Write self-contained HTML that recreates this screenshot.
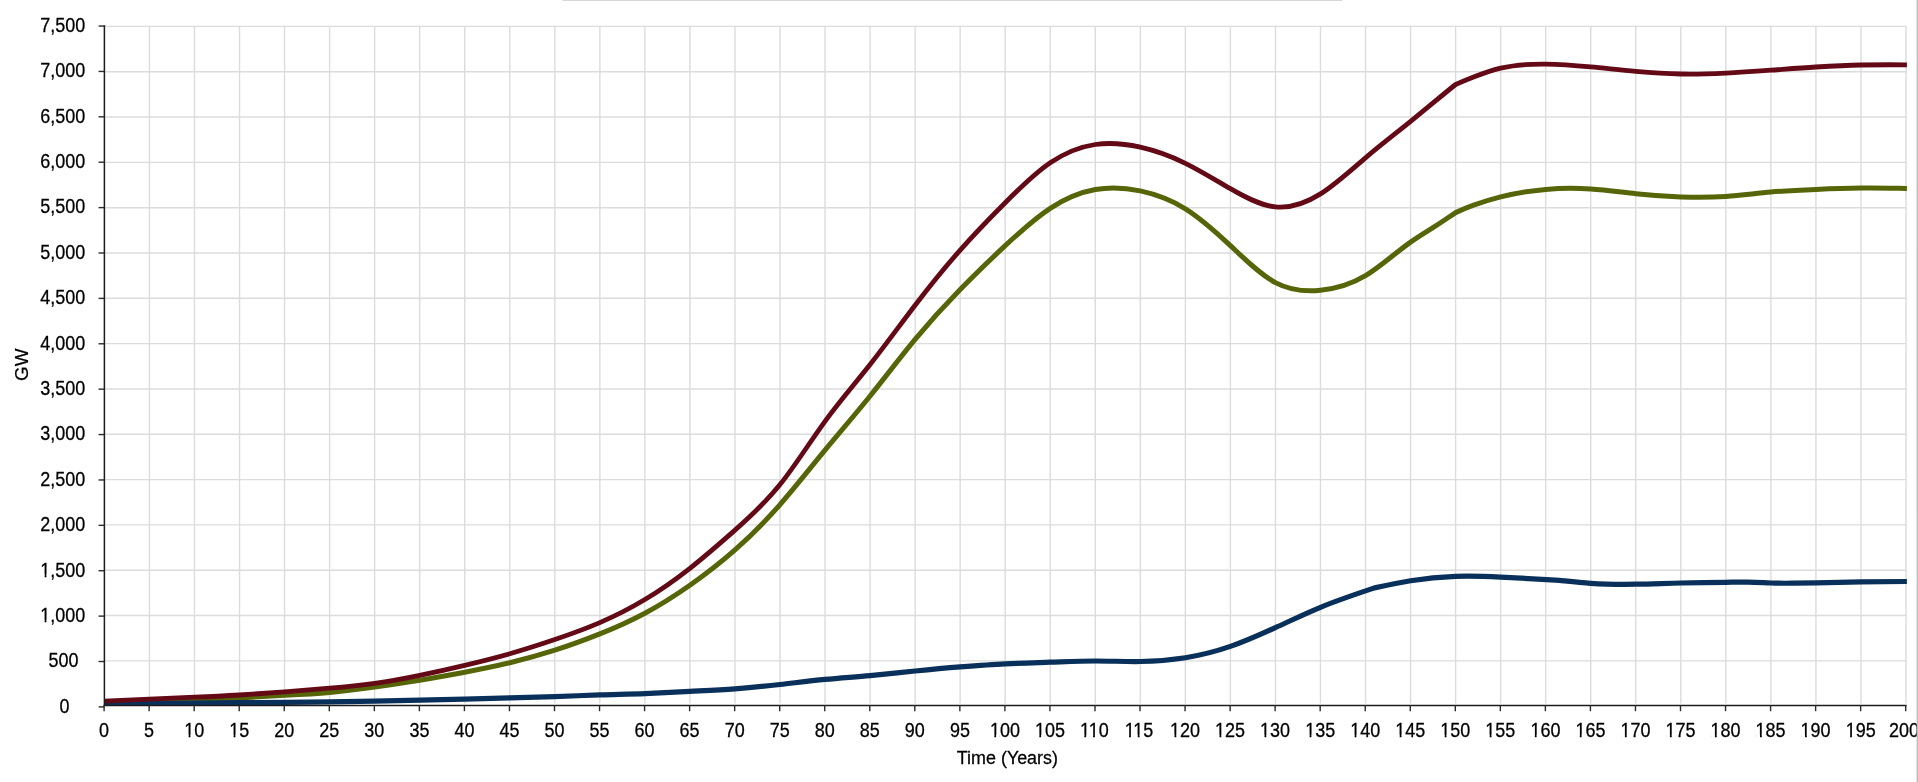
<!DOCTYPE html>
<html><head><meta charset="utf-8"><title>Chart</title>
<style>
html,body{margin:0;padding:0;background:#fff;overflow:hidden}
body{width:1918px;height:782px;position:relative;font-family:"Liberation Sans",sans-serif}
svg{position:absolute;left:0;top:0;display:block;will-change:transform}
text{font-family:"Liberation Sans",sans-serif;font-size:18px;fill:#000;stroke:#000;stroke-width:0.25px}
</style></head><body>
<svg width="1918" height="782" viewBox="0 0 1918 782">
<defs><clipPath id="pc"><rect x="104.4" y="20" width="1803" height="685.6"/></clipPath>
<linearGradient id="tg" x1="0" y1="0" x2="0" y2="1"><stop offset="0" stop-color="#c2c2c2"/><stop offset="1" stop-color="#c2c2c2" stop-opacity="0"/></linearGradient>
<linearGradient id="rg" x1="0" y1="0" x2="1" y2="0"><stop offset="0" stop-color="#bcbcbc" stop-opacity="0"/><stop offset="0.35" stop-color="#bcbcbc"/><stop offset="1" stop-color="#bebebe"/></linearGradient>
</defs>
<rect x="0" y="0" width="1918" height="782" fill="#fff"/>
<rect x="562.5" y="0" width="780" height="1.5" rx="0.5" fill="url(#tg)"/>
<g stroke="#dcdcdc" stroke-width="1.4" fill="none"><line x1="104.4" x2="1906.6" y1="660.88" y2="660.88"/><line x1="104.4" x2="1906.6" y1="615.56" y2="615.56"/><line x1="104.4" x2="1906.6" y1="570.24" y2="570.24"/><line x1="104.4" x2="1906.6" y1="524.92" y2="524.92"/><line x1="104.4" x2="1906.6" y1="479.60" y2="479.60"/><line x1="104.4" x2="1906.6" y1="434.28" y2="434.28"/><line x1="104.4" x2="1906.6" y1="388.96" y2="388.96"/><line x1="104.4" x2="1906.6" y1="343.64" y2="343.64"/><line x1="104.4" x2="1906.6" y1="298.32" y2="298.32"/><line x1="104.4" x2="1906.6" y1="253.00" y2="253.00"/><line x1="104.4" x2="1906.6" y1="207.68" y2="207.68"/><line x1="104.4" x2="1906.6" y1="162.36" y2="162.36"/><line x1="104.4" x2="1906.6" y1="117.04" y2="117.04"/><line x1="104.4" x2="1906.6" y1="71.72" y2="71.72"/><line x1="104.4" x2="1906.6" y1="26.40" y2="26.40"/><line x1="149.44" x2="149.44" y1="26" y2="703.5"/><line x1="194.48" x2="194.48" y1="26" y2="703.5"/><line x1="239.52" x2="239.52" y1="26" y2="703.5"/><line x1="284.56" x2="284.56" y1="26" y2="703.5"/><line x1="329.60" x2="329.60" y1="26" y2="703.5"/><line x1="374.64" x2="374.64" y1="26" y2="703.5"/><line x1="419.68" x2="419.68" y1="26" y2="703.5"/><line x1="464.72" x2="464.72" y1="26" y2="703.5"/><line x1="509.76" x2="509.76" y1="26" y2="703.5"/><line x1="554.80" x2="554.80" y1="26" y2="703.5"/><line x1="599.84" x2="599.84" y1="26" y2="703.5"/><line x1="644.88" x2="644.88" y1="26" y2="703.5"/><line x1="689.92" x2="689.92" y1="26" y2="703.5"/><line x1="734.96" x2="734.96" y1="26" y2="703.5"/><line x1="780.00" x2="780.00" y1="26" y2="703.5"/><line x1="825.04" x2="825.04" y1="26" y2="703.5"/><line x1="870.08" x2="870.08" y1="26" y2="703.5"/><line x1="915.12" x2="915.12" y1="26" y2="703.5"/><line x1="960.16" x2="960.16" y1="26" y2="703.5"/><line x1="1005.20" x2="1005.20" y1="26" y2="703.5"/><line x1="1050.24" x2="1050.24" y1="26" y2="703.5"/><line x1="1095.28" x2="1095.28" y1="26" y2="703.5"/><line x1="1140.32" x2="1140.32" y1="26" y2="703.5"/><line x1="1185.36" x2="1185.36" y1="26" y2="703.5"/><line x1="1230.40" x2="1230.40" y1="26" y2="703.5"/><line x1="1275.44" x2="1275.44" y1="26" y2="703.5"/><line x1="1320.48" x2="1320.48" y1="26" y2="703.5"/><line x1="1365.52" x2="1365.52" y1="26" y2="703.5"/><line x1="1410.56" x2="1410.56" y1="26" y2="703.5"/><line x1="1455.60" x2="1455.60" y1="26" y2="703.5"/><line x1="1500.64" x2="1500.64" y1="26" y2="703.5"/><line x1="1545.68" x2="1545.68" y1="26" y2="703.5"/><line x1="1590.72" x2="1590.72" y1="26" y2="703.5"/><line x1="1635.76" x2="1635.76" y1="26" y2="703.5"/><line x1="1680.80" x2="1680.80" y1="26" y2="703.5"/><line x1="1725.84" x2="1725.84" y1="26" y2="703.5"/><line x1="1770.88" x2="1770.88" y1="26" y2="703.5"/><line x1="1815.92" x2="1815.92" y1="26" y2="703.5"/><line x1="1860.96" x2="1860.96" y1="26" y2="703.5"/><line x1="1906.00" x2="1906.00" y1="26" y2="703.5"/></g>
<g clip-path="url(#pc)" fill="none" stroke-linejoin="round"><path d="M104.4 702.6C119.4 702.3 134.4 701.9 149.4 701.5C164.5 701.1 179.5 700.6 194.5 700.0C209.5 699.4 224.5 698.7 239.5 697.9C254.5 697.1 269.5 696.1 284.6 695.3C299.6 694.5 314.6 693.7 329.6 692.4C344.6 691.1 359.6 689.1 374.6 687.0C389.7 684.9 404.7 682.7 419.7 680.2C434.7 677.7 449.7 675.0 464.7 672.2C479.7 669.4 494.7 666.4 509.8 662.8C524.8 659.2 539.8 655.0 554.8 650.2C569.8 645.4 584.8 639.9 599.8 633.9C614.9 627.9 629.9 621.2 644.9 613.2C659.9 605.2 674.9 595.7 689.9 585.2C704.9 574.7 719.9 563.2 735.0 549.9C750.0 536.6 765.0 521.7 780.0 504.6C795.0 487.5 810.0 468.3 825.0 450.1C840.1 431.9 855.1 414.6 870.1 396.0C885.1 377.4 900.1 357.5 915.1 339.4C930.1 321.3 945.1 304.9 960.2 289.5C975.2 274.1 990.2 259.7 1005.2 245.7C1020.2 231.7 1035.2 218.2 1050.2 208.3C1065.3 198.4 1080.3 192.2 1095.3 189.5C1110.3 186.8 1125.3 187.7 1140.3 190.9C1155.3 194.1 1170.3 199.4 1185.4 208.8C1200.4 218.2 1215.4 231.5 1230.4 245.6C1245.4 259.7 1260.4 274.6 1275.4 282.6C1290.5 290.6 1305.5 291.8 1320.5 290.3C1335.5 288.8 1350.5 284.7 1365.5 275.7C1380.5 266.7 1395.5 252.7 1410.6 242.1C1418.7 236.4 1426.8 231.6 1434.9 226.4C1441.8 222.0 1448.7 217.2 1455.6 212.6C1461.6 209.9 1467.6 207.4 1473.6 205.2C1482.6 201.9 1491.6 199.2 1500.6 196.9C1515.7 193.1 1530.7 190.7 1545.7 189.4C1560.7 188.1 1575.7 188.0 1590.7 189.0C1605.7 190.0 1620.7 192.1 1635.8 193.7C1650.8 195.3 1665.8 196.4 1680.8 196.9C1695.8 197.4 1710.8 197.4 1725.8 196.4C1740.9 195.4 1755.9 193.3 1770.9 192.0C1785.9 190.7 1800.9 190.0 1815.9 189.4C1830.9 188.8 1845.9 188.3 1861.0 188.1C1876.0 187.9 1891.0 188.2 1906.0 188.4h0.9" stroke="#566508" stroke-width="5"/><path d="M104.4 703.9C119.4 703.8 134.4 703.6 149.4 703.5C164.5 703.4 179.5 703.2 194.5 703.1C209.5 703.0 224.5 702.8 239.5 702.7C254.5 702.6 269.5 702.6 284.6 702.4C299.6 702.2 314.6 702.0 329.6 701.8C344.6 701.6 359.6 701.5 374.6 701.2C389.7 700.9 404.7 700.5 419.7 700.2C434.7 699.9 449.7 699.6 464.7 699.2C479.7 698.8 494.7 698.3 509.8 697.9C524.8 697.5 539.8 697.1 554.8 696.6C569.8 696.1 584.8 695.4 599.8 694.9C614.9 694.4 629.9 694.2 644.9 693.6C659.9 693.0 674.9 692.2 689.9 691.4C704.9 690.6 719.9 689.9 735.0 688.8C750.0 687.7 765.0 686.2 780.0 684.5C795.0 682.8 810.0 680.9 825.0 679.4C840.1 677.9 855.1 677.0 870.1 675.6C885.1 674.2 900.1 672.5 915.1 671.0C930.1 669.5 945.1 668.1 960.2 666.9C975.2 665.7 990.2 664.5 1005.2 663.8C1020.2 663.1 1035.2 662.7 1050.2 662.2C1065.3 661.7 1080.3 661.0 1095.3 661.0C1110.3 661.0 1125.3 661.7 1140.3 661.5C1155.3 661.3 1170.3 660.1 1185.4 657.7C1200.4 655.3 1215.4 651.6 1230.4 646.4C1245.4 641.2 1260.4 634.5 1275.4 627.6C1290.5 620.7 1305.5 613.5 1320.5 607.3C1338.5 599.9 1356.5 593.9 1374.5 587.9C1386.5 585.3 1398.5 582.7 1410.6 580.7C1425.6 578.3 1440.6 576.9 1455.6 576.4C1470.6 575.9 1485.6 576.4 1500.6 577.1C1520.2 578.0 1539.7 579.1 1559.2 580.3C1569.7 581.4 1580.2 582.6 1590.7 583.3C1605.7 584.3 1620.7 584.4 1635.8 584.2C1650.8 584.0 1665.8 583.3 1680.8 583.0C1695.8 582.7 1710.8 582.6 1725.8 582.3C1733.3 582.2 1740.9 582.0 1748.4 582.1C1755.9 582.2 1763.4 582.7 1770.9 583.0C1778.4 583.3 1785.9 583.3 1793.4 583.2C1800.9 583.1 1808.4 583.0 1815.9 582.8C1830.9 582.5 1845.9 582.0 1861.0 581.8C1876.0 581.6 1891.0 581.5 1906.0 581.5h0.9" stroke="#09305a" stroke-width="5.2"/><path d="M104.4 701.1C119.4 700.4 134.4 699.7 149.4 699.1C164.5 698.5 179.5 697.8 194.5 697.2C209.5 696.6 224.5 695.9 239.5 695.0C254.5 694.1 269.5 693.0 284.6 691.9C299.6 690.8 314.6 689.5 329.6 688.2C344.6 686.9 359.6 685.4 374.6 683.3C389.7 681.2 404.7 678.4 419.7 675.3C434.7 672.2 449.7 668.9 464.7 665.3C479.7 661.7 494.7 658.0 509.8 653.7C524.8 649.4 539.8 644.6 554.8 639.5C569.8 634.4 584.8 629.1 599.8 622.6C614.9 616.1 629.9 608.5 644.9 599.5C659.9 590.5 674.9 580.1 689.9 568.3C704.9 556.5 719.9 543.4 735.0 530.1C750.0 516.8 765.0 503.3 780.0 484.6C795.0 465.9 810.0 441.9 825.0 421.3C840.1 400.7 855.1 383.5 870.1 364.5C885.1 345.5 900.1 324.8 915.1 305.2C930.1 285.6 945.1 267.1 960.2 250.1C975.2 233.1 990.2 217.7 1005.2 202.7C1020.2 187.7 1035.2 173.0 1050.2 162.8C1065.3 152.6 1080.3 146.7 1095.3 144.5C1110.3 142.3 1125.3 143.8 1140.3 147.2C1155.3 150.6 1170.3 155.9 1185.4 163.3C1200.4 170.7 1215.4 180.0 1230.4 188.7C1245.4 197.4 1260.4 205.4 1275.4 206.9C1290.5 208.4 1305.5 203.4 1320.5 193.9C1335.5 184.4 1350.5 170.5 1365.5 157.8C1380.5 145.1 1395.5 133.6 1410.6 121.4C1418.7 114.8 1426.8 108.1 1434.9 101.4C1441.8 95.7 1448.7 90.0 1455.6 84.5C1461.6 81.9 1467.6 79.4 1473.6 77.1C1482.6 73.6 1491.6 70.4 1500.6 68.2C1515.7 64.6 1530.7 63.9 1545.7 64.1C1560.7 64.3 1575.7 65.5 1590.7 66.9C1605.7 68.3 1620.7 70.1 1635.8 71.4C1650.8 72.7 1665.8 73.7 1680.8 74.0C1695.8 74.3 1710.8 73.8 1725.8 73.1C1740.9 72.4 1755.9 71.3 1770.9 70.2C1785.9 69.1 1800.9 67.9 1815.9 67.0C1830.9 66.1 1845.9 65.3 1861.0 65.0C1876.0 64.7 1891.0 64.7 1906.0 64.8h0.9" stroke="#630a16" stroke-width="4.8"/></g>
<g stroke="#1c1c1c" stroke-width="1.5" fill="none"><line x1="104.4" x2="104.4" y1="25.3" y2="706.1"/><line x1="103.65" x2="1906.6" y1="705.45" y2="705.45"/></g>
<g stroke="#2a2a2a" stroke-width="1.4" fill="none"><line x1="98.6" x2="104.4" y1="706.90" y2="706.90"/><line x1="98.6" x2="104.4" y1="661.51" y2="661.51"/><line x1="98.6" x2="104.4" y1="616.12" y2="616.12"/><line x1="98.6" x2="104.4" y1="570.73" y2="570.73"/><line x1="98.6" x2="104.4" y1="525.34" y2="525.34"/><line x1="98.6" x2="104.4" y1="479.95" y2="479.95"/><line x1="98.6" x2="104.4" y1="434.56" y2="434.56"/><line x1="98.6" x2="104.4" y1="389.17" y2="389.17"/><line x1="98.6" x2="104.4" y1="343.78" y2="343.78"/><line x1="98.6" x2="104.4" y1="298.39" y2="298.39"/><line x1="98.6" x2="104.4" y1="253.00" y2="253.00"/><line x1="98.6" x2="104.4" y1="207.61" y2="207.61"/><line x1="98.6" x2="104.4" y1="162.22" y2="162.22"/><line x1="98.6" x2="104.4" y1="116.83" y2="116.83"/><line x1="98.6" x2="104.4" y1="71.44" y2="71.44"/><line x1="98.6" x2="104.4" y1="26.05" y2="26.05"/><line x1="104.10" x2="104.10" y1="705.3" y2="711.2"/><line x1="149.14" x2="149.14" y1="705.3" y2="711.2"/><line x1="194.18" x2="194.18" y1="705.3" y2="711.2"/><line x1="239.22" x2="239.22" y1="705.3" y2="711.2"/><line x1="284.26" x2="284.26" y1="705.3" y2="711.2"/><line x1="329.30" x2="329.30" y1="705.3" y2="711.2"/><line x1="374.34" x2="374.34" y1="705.3" y2="711.2"/><line x1="419.38" x2="419.38" y1="705.3" y2="711.2"/><line x1="464.42" x2="464.42" y1="705.3" y2="711.2"/><line x1="509.46" x2="509.46" y1="705.3" y2="711.2"/><line x1="554.50" x2="554.50" y1="705.3" y2="711.2"/><line x1="599.54" x2="599.54" y1="705.3" y2="711.2"/><line x1="644.58" x2="644.58" y1="705.3" y2="711.2"/><line x1="689.62" x2="689.62" y1="705.3" y2="711.2"/><line x1="734.66" x2="734.66" y1="705.3" y2="711.2"/><line x1="779.70" x2="779.70" y1="705.3" y2="711.2"/><line x1="824.74" x2="824.74" y1="705.3" y2="711.2"/><line x1="869.78" x2="869.78" y1="705.3" y2="711.2"/><line x1="914.82" x2="914.82" y1="705.3" y2="711.2"/><line x1="959.86" x2="959.86" y1="705.3" y2="711.2"/><line x1="1004.90" x2="1004.90" y1="705.3" y2="711.2"/><line x1="1049.94" x2="1049.94" y1="705.3" y2="711.2"/><line x1="1094.98" x2="1094.98" y1="705.3" y2="711.2"/><line x1="1140.02" x2="1140.02" y1="705.3" y2="711.2"/><line x1="1185.06" x2="1185.06" y1="705.3" y2="711.2"/><line x1="1230.10" x2="1230.10" y1="705.3" y2="711.2"/><line x1="1275.14" x2="1275.14" y1="705.3" y2="711.2"/><line x1="1320.18" x2="1320.18" y1="705.3" y2="711.2"/><line x1="1365.22" x2="1365.22" y1="705.3" y2="711.2"/><line x1="1410.26" x2="1410.26" y1="705.3" y2="711.2"/><line x1="1455.30" x2="1455.30" y1="705.3" y2="711.2"/><line x1="1500.34" x2="1500.34" y1="705.3" y2="711.2"/><line x1="1545.38" x2="1545.38" y1="705.3" y2="711.2"/><line x1="1590.42" x2="1590.42" y1="705.3" y2="711.2"/><line x1="1635.46" x2="1635.46" y1="705.3" y2="711.2"/><line x1="1680.50" x2="1680.50" y1="705.3" y2="711.2"/><line x1="1725.54" x2="1725.54" y1="705.3" y2="711.2"/><line x1="1770.58" x2="1770.58" y1="705.3" y2="711.2"/><line x1="1815.62" x2="1815.62" y1="705.3" y2="711.2"/><line x1="1860.66" x2="1860.66" y1="705.3" y2="711.2"/><line x1="1905.70" x2="1905.70" y1="705.3" y2="711.2"/></g>
<text transform="translate(64.6,712.7) scale(1,1.150)" text-anchor="middle">0</text><text transform="translate(63.6,667.3) scale(1,1.150)" text-anchor="middle">500</text><text transform="translate(62.7,621.9) scale(1,1.150)" text-anchor="middle">1,000</text><text transform="translate(62.7,576.5) scale(1,1.150)" text-anchor="middle">1,500</text><text transform="translate(62.7,531.1) scale(1,1.150)" text-anchor="middle">2,000</text><text transform="translate(62.7,485.8) scale(1,1.150)" text-anchor="middle">2,500</text><text transform="translate(62.7,440.4) scale(1,1.150)" text-anchor="middle">3,000</text><text transform="translate(62.7,395.0) scale(1,1.150)" text-anchor="middle">3,500</text><text transform="translate(62.7,349.6) scale(1,1.150)" text-anchor="middle">4,000</text><text transform="translate(62.7,304.2) scale(1,1.150)" text-anchor="middle">4,500</text><text transform="translate(62.7,258.8) scale(1,1.150)" text-anchor="middle">5,000</text><text transform="translate(62.7,213.4) scale(1,1.150)" text-anchor="middle">5,500</text><text transform="translate(62.7,168.0) scale(1,1.150)" text-anchor="middle">6,000</text><text transform="translate(62.7,122.6) scale(1,1.150)" text-anchor="middle">6,500</text><text transform="translate(62.7,77.2) scale(1,1.150)" text-anchor="middle">7,000</text><text transform="translate(62.7,31.8) scale(1,1.150)" text-anchor="middle">7,500</text><text transform="translate(104.1,737) scale(1,1.150)" text-anchor="middle">0</text><text transform="translate(149.1,737) scale(1,1.150)" text-anchor="middle">5</text><text transform="translate(194.2,737) scale(1,1.150)" text-anchor="middle">10</text><text transform="translate(239.2,737) scale(1,1.150)" text-anchor="middle">15</text><text transform="translate(284.3,737) scale(1,1.150)" text-anchor="middle">20</text><text transform="translate(329.3,737) scale(1,1.150)" text-anchor="middle">25</text><text transform="translate(374.3,737) scale(1,1.150)" text-anchor="middle">30</text><text transform="translate(419.4,737) scale(1,1.150)" text-anchor="middle">35</text><text transform="translate(464.4,737) scale(1,1.150)" text-anchor="middle">40</text><text transform="translate(509.5,737) scale(1,1.150)" text-anchor="middle">45</text><text transform="translate(554.5,737) scale(1,1.150)" text-anchor="middle">50</text><text transform="translate(599.5,737) scale(1,1.150)" text-anchor="middle">55</text><text transform="translate(644.6,737) scale(1,1.150)" text-anchor="middle">60</text><text transform="translate(689.6,737) scale(1,1.150)" text-anchor="middle">65</text><text transform="translate(734.7,737) scale(1,1.150)" text-anchor="middle">70</text><text transform="translate(779.7,737) scale(1,1.150)" text-anchor="middle">75</text><text transform="translate(824.7,737) scale(1,1.150)" text-anchor="middle">80</text><text transform="translate(869.8,737) scale(1,1.150)" text-anchor="middle">85</text><text transform="translate(914.8,737) scale(1,1.150)" text-anchor="middle">90</text><text transform="translate(959.9,737) scale(1,1.150)" text-anchor="middle">95</text><text transform="translate(1004.9,737) scale(1,1.150)" text-anchor="middle">100</text><text transform="translate(1049.9,737) scale(1,1.150)" text-anchor="middle">105</text><text transform="translate(1094.3,737) scale(1,1.150)" text-anchor="middle">1<tspan dx="-1.3">1</tspan>0</text><text transform="translate(1139.0,737) scale(1,1.150)" text-anchor="middle">1<tspan dx="-1.3">1</tspan>5</text><text transform="translate(1185.1,737) scale(1,1.150)" text-anchor="middle">120</text><text transform="translate(1230.1,737) scale(1,1.150)" text-anchor="middle">125</text><text transform="translate(1275.1,737) scale(1,1.150)" text-anchor="middle">130</text><text transform="translate(1320.2,737) scale(1,1.150)" text-anchor="middle">135</text><text transform="translate(1365.2,737) scale(1,1.150)" text-anchor="middle">140</text><text transform="translate(1410.3,737) scale(1,1.150)" text-anchor="middle">145</text><text transform="translate(1455.3,737) scale(1,1.150)" text-anchor="middle">150</text><text transform="translate(1500.3,737) scale(1,1.150)" text-anchor="middle">155</text><text transform="translate(1545.4,737) scale(1,1.150)" text-anchor="middle">160</text><text transform="translate(1590.4,737) scale(1,1.150)" text-anchor="middle">165</text><text transform="translate(1635.5,737) scale(1,1.150)" text-anchor="middle">170</text><text transform="translate(1680.5,737) scale(1,1.150)" text-anchor="middle">175</text><text transform="translate(1725.5,737) scale(1,1.150)" text-anchor="middle">180</text><text transform="translate(1770.6,737) scale(1,1.150)" text-anchor="middle">185</text><text transform="translate(1815.6,737) scale(1,1.150)" text-anchor="middle">190</text><text transform="translate(1860.7,737) scale(1,1.150)" text-anchor="middle">195</text><text transform="translate(1904.1,737) scale(1,1.150)" text-anchor="middle">200</text><text transform="translate(1007.4,764) scale(0.995,1)" text-anchor="middle">Time (Years)</text><text transform="translate(28.4,364.8) rotate(-90) scale(1.045,1)" text-anchor="middle">GW</text>
<g fill="#fff"><rect x="40.90" y="619.75" width="3.70" height="4.75"/><rect x="46.42" y="619.75" width="3.58" height="4.75"/><rect x="40.90" y="574.35" width="3.70" height="4.75"/><rect x="46.42" y="574.35" width="3.58" height="4.75"/><rect x="184.90" y="734.85" width="3.70" height="4.75"/><rect x="190.42" y="734.85" width="3.58" height="4.75"/><rect x="229.90" y="734.85" width="3.70" height="4.75"/><rect x="235.42" y="734.85" width="3.58" height="4.75"/><rect x="990.60" y="734.85" width="3.70" height="4.75"/><rect x="996.12" y="734.85" width="3.58" height="4.75"/><rect x="1035.60" y="734.85" width="3.70" height="4.75"/><rect x="1041.12" y="734.85" width="3.58" height="4.75"/><rect x="1080.64" y="734.85" width="3.70" height="4.75"/><rect x="1086.16" y="734.85" width="3.58" height="4.75"/><rect x="1089.35" y="734.85" width="3.70" height="4.75"/><rect x="1094.87" y="734.85" width="3.58" height="4.75"/><rect x="1125.34" y="734.85" width="3.70" height="4.75"/><rect x="1130.86" y="734.85" width="3.58" height="4.75"/><rect x="1134.05" y="734.85" width="3.70" height="4.75"/><rect x="1139.57" y="734.85" width="3.58" height="4.75"/><rect x="1170.80" y="734.85" width="3.70" height="4.75"/><rect x="1176.32" y="734.85" width="3.58" height="4.75"/><rect x="1215.80" y="734.85" width="3.70" height="4.75"/><rect x="1221.32" y="734.85" width="3.58" height="4.75"/><rect x="1260.80" y="734.85" width="3.70" height="4.75"/><rect x="1266.32" y="734.85" width="3.58" height="4.75"/><rect x="1305.90" y="734.85" width="3.70" height="4.75"/><rect x="1311.42" y="734.85" width="3.58" height="4.75"/><rect x="1350.90" y="734.85" width="3.70" height="4.75"/><rect x="1356.42" y="734.85" width="3.58" height="4.75"/><rect x="1396.00" y="734.85" width="3.70" height="4.75"/><rect x="1401.52" y="734.85" width="3.58" height="4.75"/><rect x="1441.00" y="734.85" width="3.70" height="4.75"/><rect x="1446.52" y="734.85" width="3.58" height="4.75"/><rect x="1486.00" y="734.85" width="3.70" height="4.75"/><rect x="1491.52" y="734.85" width="3.58" height="4.75"/><rect x="1531.10" y="734.85" width="3.70" height="4.75"/><rect x="1536.62" y="734.85" width="3.58" height="4.75"/><rect x="1576.10" y="734.85" width="3.70" height="4.75"/><rect x="1581.62" y="734.85" width="3.58" height="4.75"/><rect x="1621.20" y="734.85" width="3.70" height="4.75"/><rect x="1626.72" y="734.85" width="3.58" height="4.75"/><rect x="1666.20" y="734.85" width="3.70" height="4.75"/><rect x="1671.72" y="734.85" width="3.58" height="4.75"/><rect x="1711.20" y="734.85" width="3.70" height="4.75"/><rect x="1716.72" y="734.85" width="3.58" height="4.75"/><rect x="1756.30" y="734.85" width="3.70" height="4.75"/><rect x="1761.82" y="734.85" width="3.58" height="4.75"/><rect x="1801.30" y="734.85" width="3.70" height="4.75"/><rect x="1806.82" y="734.85" width="3.58" height="4.75"/><rect x="1846.40" y="734.85" width="3.70" height="4.75"/><rect x="1851.92" y="734.85" width="3.58" height="4.75"/></g>
<rect x="1916.2" y="0" width="1.8" height="782" fill="url(#rg)"/>
</svg>
</body></html>
